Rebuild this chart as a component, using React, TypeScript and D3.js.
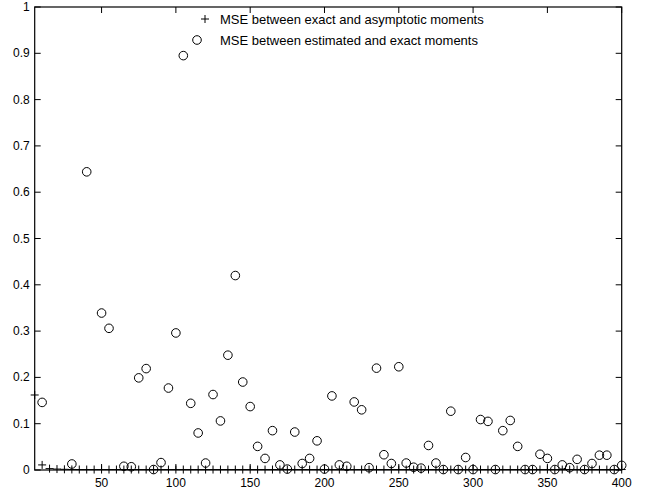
import React from "react";
import * as d3 from "d3";

const circleX = [10, 30, 40, 50, 55, 65, 70, 75, 80, 85, 90, 95, 100, 105, 110, 115, 120, 125, 130, 135, 140, 145, 150, 155, 160, 165, 170, 175, 180, 185, 190, 195, 200, 205, 210, 215, 220, 225, 230, 235, 240, 245, 250, 255, 260, 265, 270, 275, 280, 285, 290, 295, 300, 305, 310, 315, 320, 325, 330, 335, 340, 345, 350, 355, 360, 365, 370, 375, 380, 385, 390, 395, 400];
const circleY = [0.146, 0.013, 0.644, 0.339, 0.306, 0.008, 0.007, 0.199, 0.219, 0.001, 0.016, 0.177, 0.296, 0.895, 0.144, 0.080, 0.015, 0.163, 0.106, 0.248, 0.420, 0.190, 0.137, 0.051, 0.025, 0.085, 0.011, 0.002, 0.082, 0.014, 0.025, 0.063, 0.002, 0.160, 0.011, 0.008, 0.147, 0.130, 0.005, 0.220, 0.033, 0.014, 0.223, 0.015, 0.006, 0.004, 0.053, 0.015, 0.001, 0.127, 0.001, 0.027, 0.001, 0.109, 0.105, 0.001, 0.085, 0.107, 0.051, 0.001, 0.001, 0.034, 0.025, 0.001, 0.011, 0.005, 0.023, 0.001, 0.014, 0.032, 0.032, 0.001, 0.010];

const plusX = [5, 10, 15, 20, 25, 30, 35, 40, 45, 50, 55, 60, 65, 70, 75, 80, 85, 90, 95, 100, 105, 110, 115, 120, 125, 130, 135, 140, 145, 150, 155, 160, 165, 170, 175, 180, 185, 190, 195, 200, 205, 210, 215, 220, 225, 230, 235, 240, 245, 250, 255, 260, 265, 270, 275, 280, 285, 290, 295, 300, 305, 310, 315, 320, 325, 330, 335, 340, 345, 350, 355, 360, 365, 370, 375, 380, 385, 390, 395, 400];
const plusY = [0.162, 0.011, 0.003, 0.002, 0.0015, 0.0012, 0.001, 0.001, 0.001, 0.001, 0.001, 0.001, 0.001, 0.001, 0.001, 0.001, 0.001, 0.001, 0.001, 0.001, 0.001, 0.001, 0.001, 0.001, 0.001, 0.001, 0.001, 0.001, 0.001, 0.001, 0.001, 0.001, 0.001, 0.001, 0.001, 0.001, 0.001, 0.001, 0.001, 0.001, 0.001, 0.001, 0.001, 0.001, 0.001, 0.001, 0.001, 0.001, 0.001, 0.001, 0.001, 0.001, 0.001, 0.001, 0.001, 0.001, 0.001, 0.001, 0.001, 0.001, 0.001, 0.001, 0.001, 0.001, 0.001, 0.001, 0.001, 0.001, 0.001, 0.001, 0.001, 0.001, 0.001, 0.001, 0.001, 0.001, 0.001, 0.001, 0.001, 0.001];

const xTicks = [50, 100, 150, 200, 250, 300, 350, 400];
const yTicks = [0, 0.1, 0.2, 0.3, 0.4, 0.5, 0.6, 0.7, 0.8, 0.9, 1];
const legendLabels = ["MSE between exact and asymptotic moments", "MSE between estimated and exact moments"];

const W = 656, H = 493;
const L = 34.7, R = 621.7, T = 7, B = 470;
const font = "'Liberation Sans', Arial, Helvetica, sans-serif";

export default function App() {
  const x = d3.scaleLinear().domain([5, 400]).range([L, R]);
  const y = d3.scaleLinear().domain([0, 1]).range([B, T]);
  const tl = 6;
  const ps = 4;
  return (
    <svg width={W} height={H} style={{ position: "absolute", left: 0, top: 0, background: "#fff" }}>
      <rect x={0} y={0} width={W} height={H} fill="#fff" />
      {xTicks.map((t) => (
        <g key={"xt" + t}>
          <line x1={x(t)} x2={x(t)} y1={B} y2={B - tl} stroke="#000" />
          <line x1={x(t)} x2={x(t)} y1={T} y2={T + tl} stroke="#000" />
          <text x={x(t)} y={B + 17} fontSize={12} fontFamily={font} textAnchor="middle" fill="#000">{t}</text>
        </g>
      ))}
      {yTicks.map((t) => (
        <g key={"yt" + t}>
          <line x1={L} x2={L + tl} y1={y(t)} y2={y(t)} stroke="#000" />
          <line x1={R} x2={R - tl} y1={y(t)} y2={y(t)} stroke="#000" />
          <text x={L - 5} y={y(t) + 4} fontSize={12} fontFamily={font} textAnchor="end" fill="#000">{d3.format("~g")(t)}</text>
        </g>
      ))}
      <rect x={L} y={T} width={R - L} height={B - T} fill="none" stroke="#000" strokeWidth={1.2} />
      {plusX.map((v, i) => (
        <path key={"p" + i} d={`M${x(v) - ps},${y(plusY[i])}H${x(v) + ps}M${x(v)},${y(plusY[i]) - ps}V${y(plusY[i]) + ps}`} stroke="#000" strokeWidth={1} fill="none" />
      ))}
      {circleX.map((v, i) => (
        <circle key={"c" + i} cx={x(v)} cy={y(circleY[i])} r={4.3} fill="none" stroke="#000" strokeWidth={1} />
      ))}
      <path d={`M${205 - ps},19H${205 + ps}M205,${19 - ps}V${19 + ps}`} stroke="#000" fill="none" />
      <circle cx={197} cy={40} r={4.3} fill="none" stroke="#000" />
      <text x={220} y={23.5} fontSize={13} fontFamily={font} fill="#000">{legendLabels[0]}</text>
      <text x={220} y={44.5} fontSize={13} fontFamily={font} fill="#000">{legendLabels[1]}</text>
    </svg>
  );
}
